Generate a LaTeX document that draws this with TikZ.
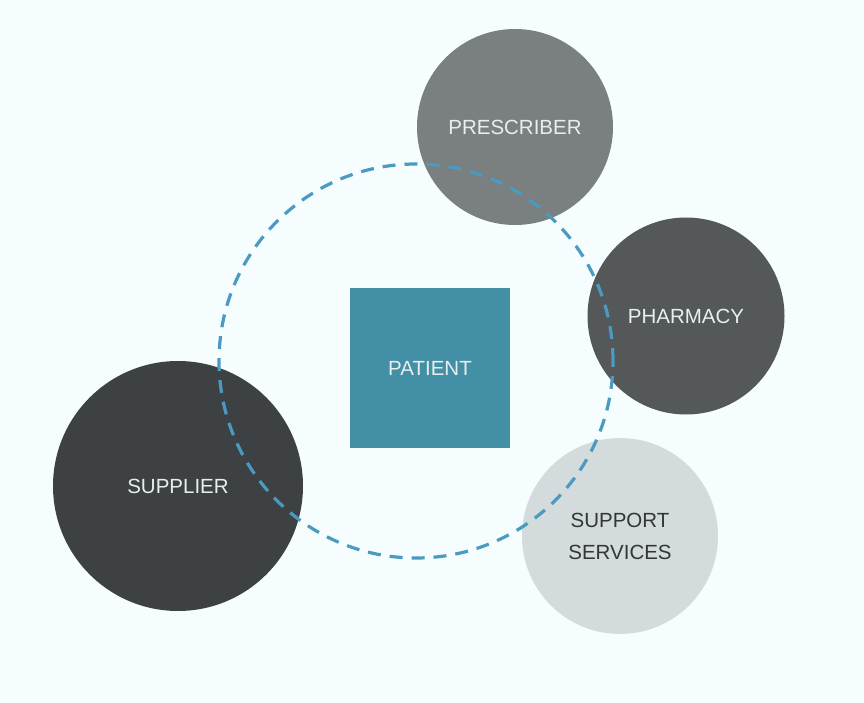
\documentclass[tikz,border=0pt]{standalone}
\usepackage{fontspec}
\setmainfont{Liberation Sans}
\definecolor{bgc}{HTML}{F5FDFE}
\definecolor{prescc}{HTML}{7A7F7F}
\definecolor{pharmc}{HTML}{555859}
\definecolor{suppc}{HTML}{3D4143}
\definecolor{servc}{HTML}{D3DBDC}
\definecolor{patc}{HTML}{438FA6}
\definecolor{ringc}{HTML}{4B9AC1}
\definecolor{lighttext}{HTML}{E8EEEE}
\definecolor{darktext}{HTML}{333637}
\tikzset{
  actor/.style={circle, draw=none, inner sep=0pt, minimum size=#1, font=\fontsize{20.5}{24}\selectfont, text=lighttext, align=center},
  ringstyle/.style={circle, draw=ringc, line width=3.2pt, dash pattern=on 13pt off 9pt, inner sep=0pt, minimum size=394pt},
}
\begin{document}
\begin{tikzpicture}[x=1pt,y=-1pt]
\fill[bgc] (0,0) rectangle (864,703);
\useasboundingbox (0,0) rectangle (864,703);
\node[actor=196pt, fill=prescc] (prescriber) at (515,127) {PRESCRIBER};
\node[actor=197pt, fill=pharmc] (pharmacy) at (686,316) {PHARMACY};
\node[actor=250pt, fill=suppc] (supplier) at (178,486) {SUPPLIER};
\node[actor=196pt, fill=servc, text=darktext, font=\fontsize{20.5}{32}\selectfont] (services) at (620,536) {SUPPORT\\SERVICES};
\node[rectangle, fill=patc, minimum width=160pt, minimum height=160pt, inner sep=0pt, text=lighttext, font=\fontsize{20.5}{24}\selectfont] (patient) at (430,368) {PATIENT};
\node[ringstyle] (ring) at (416,361) {};
\end{tikzpicture}
\end{document}
